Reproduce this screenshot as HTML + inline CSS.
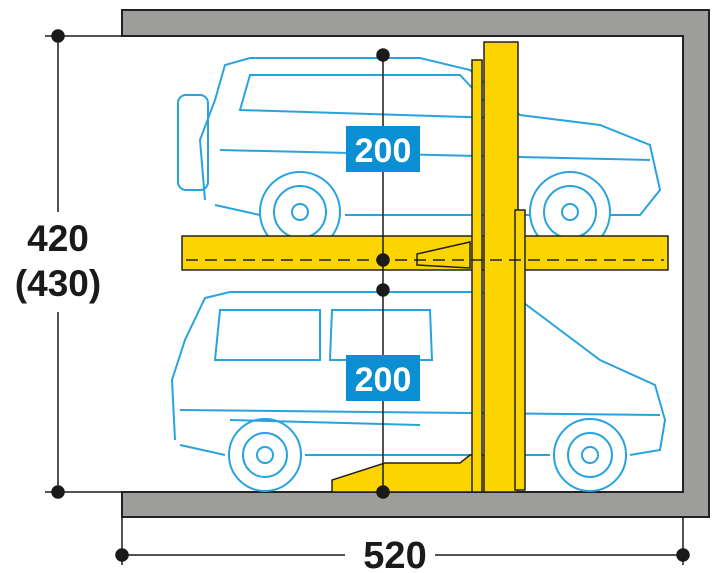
<!DOCTYPE html>
<html><head><style>body{margin:0;background:#fff}svg{display:block}</style></head><body>
<svg width="725" height="573" viewBox="0 0 725 573" xmlns="http://www.w3.org/2000/svg">
<path d="M122 10 H709 V517 H122 V492 H683 V36 H122 Z" fill="#9d9d9c" stroke="#222" stroke-width="2"/>
<g fill="none" stroke="#29a3e0" stroke-width="2">
<rect x="178" y="95" width="30" height="95" rx="8"/>
<path d="M205 200 L200 140 L215 100 L225 65 L250 58 L420 58 L470 70 L520 115 L600 125 L650 145 L660 190 L640 215 L610 215 M530 215 L345 215 M260 215 L215 205 Z"/>
<path d="M240 110 L250 75 L460 75 L500 118 Z M220 150 L650 160"/>
<circle cx="300" cy="212" r="40"/><circle cx="300" cy="212" r="26"/><circle cx="300" cy="212" r="8"/>
<circle cx="570" cy="212" r="40"/><circle cx="570" cy="212" r="26"/><circle cx="570" cy="212" r="8"/>
</g>
<g fill="none" stroke="#29a3e0" stroke-width="2">
<path d="M175 440 L172 380 L185 340 L205 298 L230 292 L480 292 L520 300 L600 360 L655 385 L665 420 L660 450 L630 455 M550 455 L305 455 M225 455 L180 445 Z"/>
<path d="M215 360 L220 310 L320 310 L320 360 Z M330 360 L332 310 L430 310 L432 360 Z M180 410 L660 415 M230 420 L420 425"/>
<circle cx="265" cy="455" r="36"/><circle cx="265" cy="455" r="22"/><circle cx="265" cy="455" r="8"/>
<circle cx="590" cy="455" r="36"/><circle cx="590" cy="455" r="22"/><circle cx="590" cy="455" r="8"/>
</g>
<g fill="#fcd400" stroke="#222" stroke-width="1.5">
<rect x="182" y="236" width="486" height="34"/>
<path d="M417 254 L470 242 L470 268 L417 265 Z"/>
<path d="M332 492 L332 480 L385 463 L460 463 L470 455 L505 455 L505 492 Z"/>
<rect x="472" y="60" width="10" height="432"/>
<rect x="484" y="42" width="34" height="450"/>
<rect x="515" y="210" width="10" height="280"/>
</g>
<line x1="186" y1="260" x2="664" y2="260" stroke="#222" stroke-width="1.5" stroke-dasharray="12 7"/>
<g stroke="#1a1a1a" stroke-width="1.5" fill="#1a1a1a">
<line x1="383" y1="55" x2="383" y2="492"/>
<line x1="58" y1="36" x2="58" y2="492"/>
<line x1="45" y1="36" x2="122" y2="36"/>
<line x1="45" y1="492" x2="122" y2="492"/>
<line x1="122" y1="517" x2="122" y2="565"/>
<line x1="683" y1="517" x2="683" y2="565"/>
<line x1="122" y1="555" x2="345" y2="555"/><line x1="435" y1="555" x2="683" y2="555"/>
<circle cx="383" cy="55" r="6"/><circle cx="383" cy="260" r="6"/><circle cx="383" cy="290" r="6"/><circle cx="383" cy="492" r="6"/>
<circle cx="58" cy="36" r="6"/><circle cx="58" cy="492" r="6"/>
<circle cx="122" cy="555" r="6"/><circle cx="683" cy="555" r="6"/>
</g>
<rect x="50" y="212" width="20" height="100" fill="#fff"/>
<g font-family="Liberation Sans, sans-serif" font-weight="bold" fill="#1a1a1a" text-anchor="middle">
<text x="58" y="251" font-size="37">420</text>
<text x="58" y="296" font-size="37">(430)</text>
<text x="395" y="568" font-size="38">520</text>
</g>
<rect x="346" y="126" width="74" height="46" fill="#0b8fd3"/>
<rect x="346" y="355" width="74" height="46" fill="#0b8fd3"/>
<g font-family="Liberation Sans, sans-serif" font-weight="bold" fill="#fff" text-anchor="middle" font-size="34">
<text x="383" y="162">200</text><text x="383" y="391">200</text>
</g>
</svg>
</body></html>
